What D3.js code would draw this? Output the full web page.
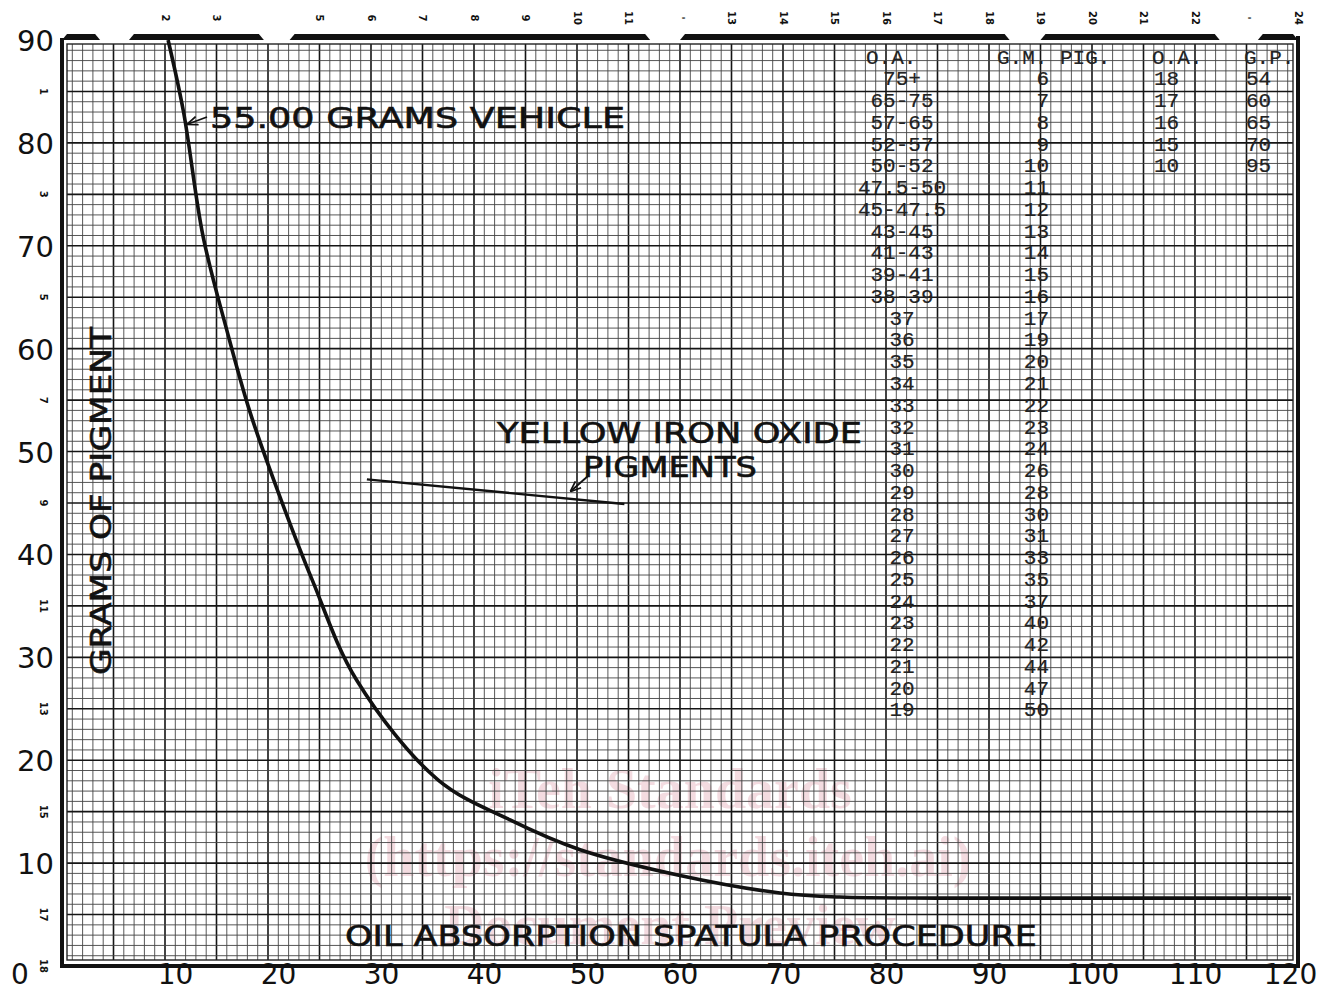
<!DOCTYPE html>
<html>
<head>
<meta charset="utf-8">
<script src="https://cdn.jsdelivr.net/npm/d3@7"></script>
<style>
  html, body { margin: 0; padding: 0; background: #fff; }
  svg { display: block; }
  .grid-fine { stroke: #444; stroke-width: 0.9; }
  .grid-heavy { stroke: #151515; stroke-width: 1.6; }
  .big { font-family: "DejaVu Sans", sans-serif; font-size: 29px; fill: #111; }
  .xlab { font-size: 28px; }
  .letter { font-family: "DejaVu Sans", sans-serif; font-size: 29px; fill: #111; stroke: #111; stroke-width: 0.6; }
  .tbl { font-family: "Liberation Mono", "DejaVu Sans Mono", monospace; font-size: 21px; fill: #222; stroke: #222; stroke-width: 0.2; }
  .tiny { font-family: "DejaVu Sans", sans-serif; font-size: 10px; font-weight: bold; fill: #111; }
  .wm { font-family: "Liberation Serif", serif; font-weight: bold; font-size: 56px; fill: #c8506a; opacity: 0.2; }
</style>
</head>
<body>
<svg id="chart" width="1322" height="992"></svg>
<script>
// curve: 55.00 grams vehicle (oil absorption vs grams of pigment)
const curveOA = [10.3, 11.8, 13.7, 16.0, 18.2, 20.9, 24.3, 28.6, 36.5, 43.5, 50.3, 60, 69.7, 75.5, 85, 100, 119.3]
const curveGP = [90, 83, 70.9, 61.8, 54.0, 46.3, 37.5, 27.8, 18.1, 14.2, 11.3, 8.8, 7.1, 6.7, 6.6, 6.6, 6.6]

// "yellow iron oxide pigments" segment
const yellowOA = [29.6, 54.6]
const yellowGP = [47.3, 44.9]

// axis ticks
const xTicks = [10, 20, 30, 40, 50, 60, 70, 80, 90, 100, 110, 120]
const yTicks = [10, 20, 30, 40, 50, 60, 70, 80, 90]

// table on the chart
const tableOA = ['75+', '65-75', '57-65', '52-57', '50-52', '47.5-50', '45-47.5', '43-45', '41-43', '39-41', '38-39',
  '37', '36', '35', '34', '33', '32', '31', '30', '29', '28', '27', '26', '25', '24', '23', '22', '21', '20', '19']
const tableGM = ['6', '7', '8', '9', '10', '11', '12', '13', '14', '15', '16', '17', '19', '20', '21', '22', '23', '24',
  '26', '28', '30', '31', '33', '35', '37', '40', '42', '44', '47', '50']
const tableOA2 = ['18', '17', '16', '15', '10']
const tableGP2 = ['54', '60', '65', '70', '95']

// paper column / row numbers
const colNums = ['', '2', '3', '', '5', '6', '7', '8', '9', '10', '11', '\'', '13', '14', '15', '16', '17', '18', '19', '20', '21', '22', '\'', '24']
const rowNums = ['1', '', '3', '', '5', '', '7', '', '9', '', '11', '', '13', '', '15', '', '17', '18']

// tab bars along the top edge (oil absorption units)
const tabs = [[0, 3.7], [6.5, 19.6], [22.1, 57.1], [60, 92], [95, 112.4], [116.1, 120]]

const svg = d3.select('#chart')
const x = d3.scaleLinear().domain([0, 120]).range([62, 1298])
const y = d3.scaleLinear().domain([0, 90]).range([966, 40])

// watermark behind everything
const wm = svg.append('g').attr('class', 'watermark')
wm.append('text').attr('class', 'wm').attr('x', 670).attr('y', 808).attr('text-anchor', 'middle').text('iTeh Standards')
wm.append('text').attr('class', 'wm').attr('x', 668).attr('y', 876).attr('text-anchor', 'middle').text('(https://standards.iteh.ai)')
wm.append('text').attr('class', 'wm').attr('x', 670).attr('y', 944).attr('text-anchor', 'middle').text('Document Preview')

// graph paper
svg.append('clipPath').attr('id', 'paper')
  .append('rect').attr('x', x(0) + 5).attr('y', y(90) + 4).attr('width', x(120) - x(0) - 10).attr('height', y(0) - y(90) - 10)

const grid = svg.append('g').attr('clip-path', 'url(#paper)')
grid.selectAll('.vl').data(d3.range(1, 120)).join('line')
  .attr('class', d => d % 5 === 0 ? 'grid-heavy' : 'grid-fine')
  .attr('x1', d => x(d)).attr('x2', d => x(d))
  .attr('y1', y(90)).attr('y2', y(0))
grid.selectAll('.hl').data(d3.range(1, 90)).join('line')
  .attr('class', d => d % 5 === 0 ? 'grid-heavy' : 'grid-fine')
  .attr('y1', d => y(d)).attr('y2', d => y(d))
  .attr('x1', x(0)).attr('x2', x(120))

// inner thin frame
svg.append('rect')
  .attr('x', x(0) + 5).attr('y', y(90) + 4)
  .attr('width', x(120) - x(0) - 10).attr('height', y(0) - y(90) - 10)
  .attr('fill', 'none').attr('stroke', '#222').attr('stroke-width', 1.4)

// outer thick frame (left, bottom, right)
svg.append('path')
  .attr('d', `M${x(0)},${y(90) - 2}L${x(0)},${y(0)}L${x(120)},${y(0)}L${x(120)},${y(90) - 4}`)
  .attr('fill', 'none').attr('stroke', '#111').attr('stroke-width', 4)

// top tabs
svg.selectAll('.tab').data(tabs).join('path')
  .attr('class', 'tab')
  .attr('d', d => {
    const a = x(d[0]), b = x(d[1]), t = y(90) - 6, bt = y(90)
    return `M${a},${bt}L${a + 5},${t}L${b - 5},${t}L${b},${bt}Z`
  })
  .attr('fill', '#111')

// column numbers above
svg.selectAll('.colnum').data(colNums).join('text')
  .attr('class', 'tiny')
  .attr('transform', (d, i) => `translate(${x((i + 1) * 5)},18) rotate(90)`)
  .attr('text-anchor', 'middle').attr('dy', '0.35em')
  .text(d => d)

// row numbers on the left
svg.selectAll('.rownum').data(rowNums).join('text')
  .attr('class', 'tiny')
  .attr('transform', (d, i) => `translate(43,${y(90 - (i + 1) * 5)}) rotate(90)`)
  .attr('text-anchor', 'middle').attr('dy', '0.35em')
  .text(d => d)

// axes
const yAxis = svg.append('g')
  .attr('transform', `translate(${x(0) - 6},0)`)
  .call(d3.axisLeft(y).tickValues(yTicks).tickSize(0).tickPadding(2))
yAxis.select('.domain').remove()
yAxis.selectAll('text').attr('class', 'big').attr('font-size', null).attr('font-family', null).attr('dy', '0.36em')

const xAxis = svg.append('g')
  .attr('transform', `translate(0,${y(0)})`)
  .call(d3.axisBottom(x).tickValues(xTicks).tickSize(0).tickPadding(0))
xAxis.select('.domain').remove()
xAxis.selectAll('text').attr('class', 'big xlab').attr('font-size', null).attr('font-family', null)
  .attr('y', 18).attr('dy', 0).attr('dx', d => d < 60 ? 10 : (d === 120 ? -8 : 0))

svg.append('text').attr('class', 'big xlab')
  .attr('x', x(0) - 42).attr('y', y(0) + 18)
  .attr('text-anchor', 'middle').text('0')

// main curve
const line = d3.line().x(d => x(d[0])).y(d => y(d[1])).curve(d3.curveCatmullRom.alpha(0.5))
svg.append('path')
  .datum(curveOA.map((v, i) => [v, curveGP[i]]))
  .attr('d', line)
  .attr('fill', 'none').attr('stroke', '#111').attr('stroke-width', 3.6)

// yellow iron oxide segment
svg.append('path')
  .datum(yellowOA.map((v, i) => [v, yellowGP[i]]))
  .attr('d', d3.line().x(d => x(d[0])).y(d => y(d[1])))
  .attr('fill', 'none').attr('stroke', '#111').attr('stroke-width', 2.4)

// arrows
svg.append('defs').append('marker')
  .attr('id', 'arrow')
  .attr('viewBox', '0 -5 10 10')
  .attr('refX', 9).attr('refY', 0)
  .attr('markerWidth', 6).attr('markerHeight', 6)
  .attr('orient', 'auto')
  .append('path').attr('d', 'M0,-4L10,0L0,4').attr('fill', 'none').attr('stroke', '#111').attr('stroke-width', 1.6)

svg.append('line')
  .attr('x1', 207).attr('y1', 117).attr('x2', 188).attr('y2', 124)
  .attr('stroke', '#111').attr('stroke-width', 1.8).attr('marker-end', 'url(#arrow)')
svg.append('line')
  .attr('x1', 588).attr('y1', 476).attr('x2', 571).attr('y2', 491)
  .attr('stroke', '#111').attr('stroke-width', 1.8).attr('marker-end', 'url(#arrow)')

// lettering
svg.append('text').attr('class', 'letter')
  .attr('x', 210).attr('y', 128).attr('textLength', 415).attr('lengthAdjust', 'spacingAndGlyphs')
  .text('55.00 GRAMS VEHICLE')
svg.append('text').attr('class', 'letter')
  .attr('x', 497).attr('y', 443).attr('textLength', 365).attr('lengthAdjust', 'spacingAndGlyphs')
  .text('YELLOW IRON OXIDE')
svg.append('text').attr('class', 'letter')
  .attr('x', 583).attr('y', 477).attr('textLength', 174).attr('lengthAdjust', 'spacingAndGlyphs')
  .text('PIGMENTS')
svg.append('text').attr('class', 'letter')
  .attr('x', 345).attr('y', 946).attr('textLength', 692).attr('lengthAdjust', 'spacingAndGlyphs')
  .text('OIL ABSORPTION SPATULA PROCEDURE')
svg.append('text').attr('class', 'letter')
  .attr('transform', 'translate(111,675) rotate(-90)')
  .attr('textLength', 348).attr('lengthAdjust', 'spacingAndGlyphs')
  .text('GRAMS OF PIGMENT')

// table
const rowY = i => 78 + i * 21.76
const tbl = svg.append('g')
tbl.append('text').attr('class', 'tbl').attr('x', 866).attr('y', 57).attr('dy', '0.35em').text('O.A.')
tbl.append('text').attr('class', 'tbl').attr('x', 997).attr('y', 57).attr('dy', '0.35em').text('G.M. PIG.')
tbl.append('text').attr('class', 'tbl').attr('x', 1152).attr('y', 57).attr('dy', '0.35em').text('O.A.')
tbl.append('text').attr('class', 'tbl').attr('x', 1244).attr('y', 57).attr('dy', '0.35em').text('G.P.')

tbl.selectAll('.oa').data(tableOA).join('text')
  .attr('class', 'tbl').attr('text-anchor', 'middle')
  .attr('x', 902).attr('y', (d, i) => rowY(i)).attr('dy', '0.35em')
  .text(d => d)
tbl.selectAll('.gm').data(tableGM).join('text')
  .attr('class', 'tbl').attr('text-anchor', 'end')
  .attr('x', 1049).attr('y', (d, i) => rowY(i)).attr('dy', '0.35em')
  .text(d => d)
tbl.selectAll('.oa2').data(tableOA2).join('text')
  .attr('class', 'tbl')
  .attr('x', 1154).attr('y', (d, i) => rowY(i)).attr('dy', '0.35em')
  .text(d => d)
tbl.selectAll('.gp2').data(tableGP2).join('text')
  .attr('class', 'tbl')
  .attr('x', 1246).attr('y', (d, i) => rowY(i)).attr('dy', '0.35em')
  .text(d => d)
</script>
</body>
</html>
